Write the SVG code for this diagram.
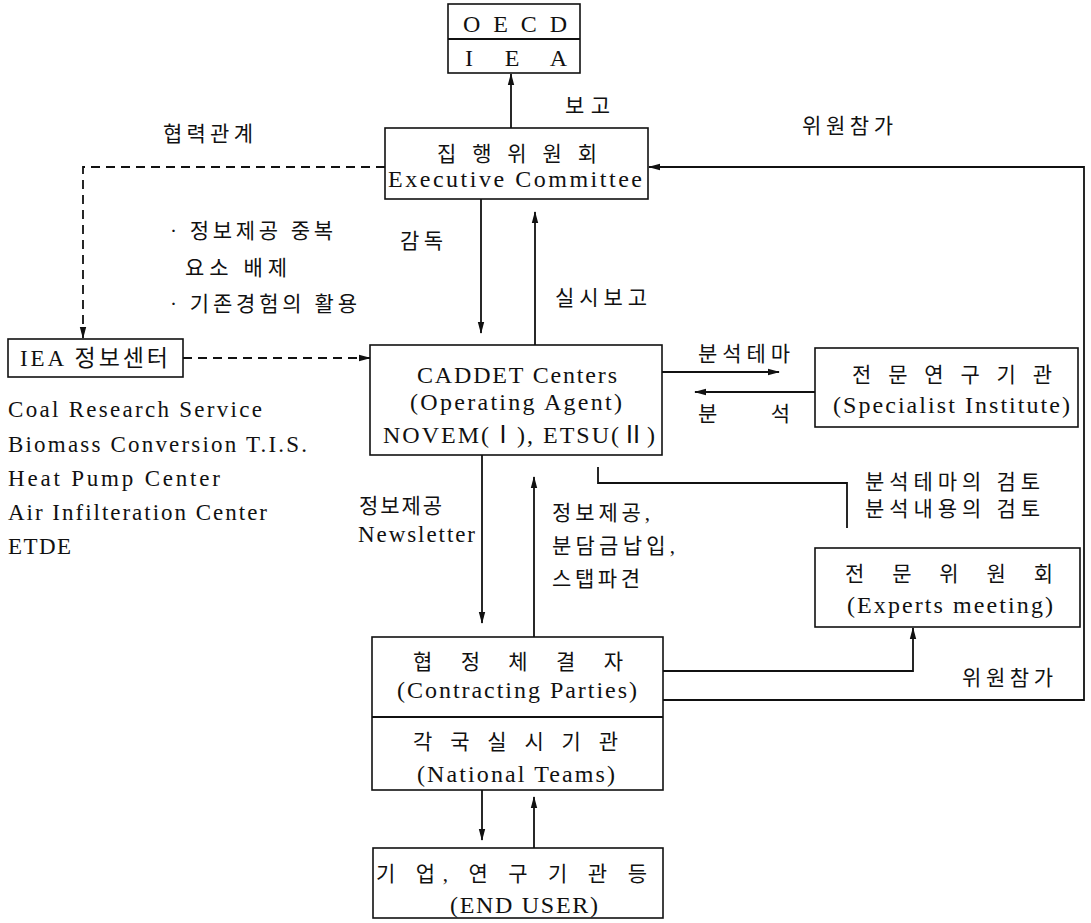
<svg xmlns="http://www.w3.org/2000/svg" width="1091" height="923" viewBox="0 0 1091 923">
<style>
.box{fill:#fff;stroke:#111;stroke-width:1.6}
.ln{fill:none;stroke:#111;stroke-width:1.8}
.dash{fill:none;stroke:#111;stroke-width:1.8;stroke-dasharray:9 6}
text{font-family:"Liberation Serif","Noto Sans CJK KR",serif;fill:#111}
.en{font-size:24px}
.ko{font-size:21px}
.sm{font-size:23px}
</style>
<defs>
<marker id="ah" markerUnits="userSpaceOnUse" markerWidth="12" markerHeight="8" refX="11" refY="4" orient="auto">
<path d="M0,0.8 L12,4 L0,7.2 z" fill="#111"/>
</marker>
</defs>
<rect width="1091" height="923" fill="#fff"/>

<g id="connectors">
<line class="ln" x1="511" y1="128" x2="511" y2="74" marker-end="url(#ah)"/>
<path class="dash" d="M385,167 H83 V338" marker-end="url(#ah)"/>
<path class="dash" d="M183,358 H370" marker-end="url(#ah)"/>
<line class="ln" x1="481" y1="199" x2="481" y2="333" marker-end="url(#ah)"/>
<line class="ln" x1="535" y1="345" x2="535" y2="212" marker-end="url(#ah)"/>
<line class="ln" x1="662" y1="372" x2="779" y2="372" marker-end="url(#ah)"/>
<line class="ln" x1="815" y1="392" x2="695" y2="392" marker-end="url(#ah)"/>
<path class="ln" d="M663,700 H1084 V167 H649" marker-end="url(#ah)"/>
<path class="ln" d="M598,467 V483 H847 V528"/>
<path class="ln" d="M663,671 H913 V628" marker-end="url(#ah)"/>
<line class="ln" x1="482" y1="455" x2="482" y2="623" marker-end="url(#ah)"/>
<line class="ln" x1="534" y1="637" x2="534" y2="477" marker-end="url(#ah)"/>
<line class="ln" x1="482" y1="790" x2="482" y2="840" marker-end="url(#ah)"/>
<line class="ln" x1="534" y1="848" x2="534" y2="797" marker-end="url(#ah)"/>
</g>

<g id="labels">
<text class="ko" x="565" y="113" textLength="45" lengthAdjust="spacing">보고</text>
<text class="ko" x="163" y="141" textLength="90" lengthAdjust="spacing">협력관계</text>
<text class="ko" x="802" y="133" textLength="91" lengthAdjust="spacing">위원참가</text>
<text class="ko" x="170" y="238" textLength="163" lengthAdjust="spacing">· 정보제공 중복</text>
<text class="ko" x="185" y="275" textLength="102" lengthAdjust="spacing">요소 배제</text>
<text class="ko" x="170" y="311" textLength="187" lengthAdjust="spacing">· 기존경험의 활용</text>
<text class="ko" x="400" y="248" textLength="43" lengthAdjust="spacing">감독</text>
<text class="ko" x="555" y="305" textLength="92" lengthAdjust="spacing">실시보고</text>
<text class="ko" x="698" y="361" textLength="92" lengthAdjust="spacing">분석테마</text>
<text class="ko" x="698" y="421" textLength="92" lengthAdjust="spacing">분 석</text>
<text class="ko" x="865" y="489" textLength="175" lengthAdjust="spacing">분석테마의 검토</text>
<text class="ko" x="865" y="516" textLength="175" lengthAdjust="spacing">분석내용의 검토</text>
<text class="ko" x="962" y="685" textLength="91" lengthAdjust="spacing">위원참가</text>
<text class="ko" x="359" y="513" textLength="83" lengthAdjust="spacing">정보제공</text>
<text class="sm" x="358" y="542" textLength="117" lengthAdjust="spacing">Newsletter</text>
<text class="ko" x="552" y="520" textLength="98" lengthAdjust="spacing">정보제공,</text>
<text class="ko" x="552" y="553" textLength="123" lengthAdjust="spacing">분담금납입,</text>
<text class="ko" x="552" y="586" textLength="88" lengthAdjust="spacing">스탭파견</text>
<text class="sm" x="8" y="417" textLength="254" lengthAdjust="spacing">Coal Research Service</text>
<text class="sm" x="8" y="452" textLength="299" lengthAdjust="spacing">Biomass Conversion T.I.S.</text>
<text class="sm" x="8" y="486" textLength="212" lengthAdjust="spacing">Heat Pump Center</text>
<text class="sm" x="8" y="520" textLength="259" lengthAdjust="spacing">Air Infilteration Center</text>
<text class="sm" x="8" y="554" textLength="63" lengthAdjust="spacing">ETDE</text>
</g>

<g id="oecd-iea">
<rect class="box" x="448" y="4" width="132" height="69"/>
<line class="ln" x1="448" y1="39" x2="580" y2="39"/>
<text class="en" x="463" y="32" textLength="104" lengthAdjust="spacing">O E C D</text>
<text class="en" x="465" y="66" textLength="102" lengthAdjust="spacing">I E A</text>
</g>

<g id="executive-committee">
<rect class="box" x="385" y="128" width="263" height="71"/>
<text class="ko" x="437" y="161" textLength="160" lengthAdjust="spacing">집 행 위 원 회</text>
<text class="en" x="388" y="187" textLength="254" lengthAdjust="spacing">Executive Committee</text>
</g>

<g id="iea-info-center">
<rect class="box" x="8" y="339" width="175" height="38"/>
<text class="sm" x="20" y="366" textLength="148" lengthAdjust="spacing">IEA 정보센터</text>
</g>

<g id="caddet-centers">
<rect class="box" x="370" y="345" width="292" height="110"/>
<text class="en" x="417" y="383" textLength="200" lengthAdjust="spacing">CADDET Centers</text>
<text class="en" x="410" y="410" textLength="212" lengthAdjust="spacing">(Operating Agent)</text>
<text class="en" x="383" y="443" textLength="272" lengthAdjust="spacing">NOVEM(Ⅰ), ETSU(Ⅱ)</text>
</g>

<g id="specialist-institute">
<rect class="box" x="815" y="348" width="263" height="79"/>
<text class="ko" x="852" y="382" textLength="200" lengthAdjust="spacing">전 문 연 구 기 관</text>
<text class="en" x="833" y="413" textLength="237" lengthAdjust="spacing">(Specialist Institute)</text>
</g>

<g id="experts-meeting">
<rect class="box" x="815" y="548" width="265" height="79"/>
<text class="ko" x="845" y="581" textLength="208" lengthAdjust="spacing">전 문 위 원 회</text>
<text class="en" x="847" y="613" textLength="206" lengthAdjust="spacing">(Experts meeting)</text>
</g>

<g id="contracting-parties">
<rect class="box" x="372" y="637" width="291" height="153"/>
<line class="ln" x1="372" y1="717" x2="663" y2="717"/>
<text class="ko" x="413" y="669" textLength="210" lengthAdjust="spacing">협 정 체 결 자</text>
<text class="en" x="397" y="698" textLength="240" lengthAdjust="spacing">(Contracting Parties)</text>
<text class="ko" x="413" y="749" textLength="205" lengthAdjust="spacing">각 국  실 시 기 관</text>
<text class="en" x="417" y="782" textLength="198" lengthAdjust="spacing">(National Teams)</text>
</g>

<g id="end-user">
<rect class="box" x="373" y="848" width="290" height="70"/>
<text class="ko" x="376" y="881" textLength="271" lengthAdjust="spacing">기 업,  연 구 기 관 등</text>
<text class="en" x="450" y="913" textLength="148" lengthAdjust="spacing">(END USER)</text>
</g>
</svg>
